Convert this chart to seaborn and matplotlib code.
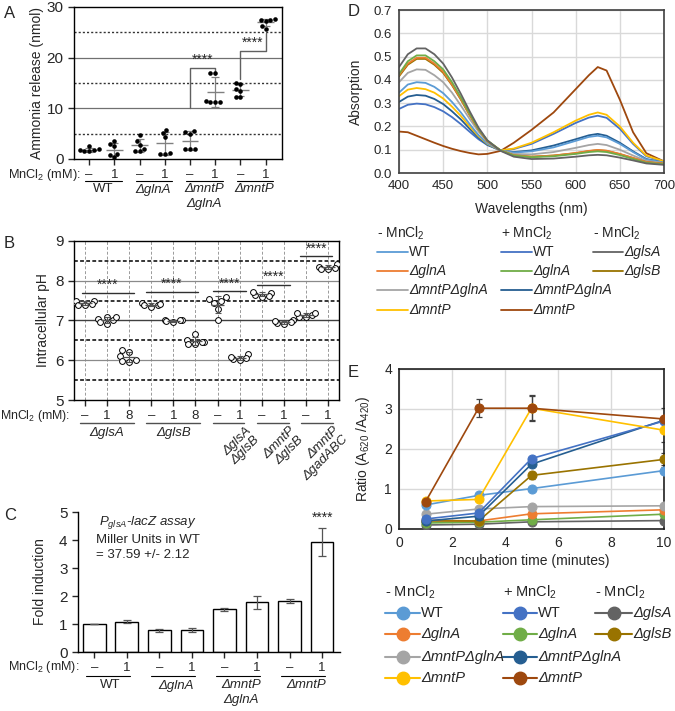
import numpy as np
import pandas as pd
import matplotlib
matplotlib.use("Agg")
import matplotlib.pyplot as plt
import matplotlib.transforms as mtransforms
from matplotlib.lines import Line2D
import seaborn as sns

sns.set_style("ticks")
plt.rcParams['font.family'] = ['Liberation Sans', 'DejaVu Sans']
plt.rcParams['mathtext.fontset'] = 'custom'
plt.rcParams['mathtext.rm'] = 'Liberation Sans'
plt.rcParams['mathtext.it'] = 'Liberation Sans:italic'
plt.rcParams['mathtext.bf'] = 'Liberation Sans:bold'

# ---------------- data ----------------
# Panel A: ammonia release (nmol)
a_groups = ["WT-", "WT+", "glnA-", "glnA+", "mntPglnA-", "mntPglnA+", "mntP-", "mntP+"]
a_vals = [
    [1.5, 1.6, 1.7, 1.8, 1.9, 2.5],
    [0.3, 0.8, 1.0, 2.5, 3.0, 3.6],
    [1.5, 1.6, 2.0, 2.8, 3.6, 4.7],
    [1.0, 1.0, 1.1, 4.4, 5.2, 5.8],
    [1.9, 2.0, 2.0, 5.0, 5.3, 5.5],
    [11.2, 11.2, 11.3, 11.4, 17.0, 17.0],
    [12.3, 12.3, 13.4, 13.9, 14.8, 15.0],
    [25.7, 26.3, 27.2, 27.4, 27.5, 27.6],
]
a_ticklabels = ["–", "1", "–", "1", "–", "1", "–", "1"]
a_strains = ["WT", "ΔglnA", "ΔmntP\nΔglnA", "ΔmntP"]

# Panel B: intracellular pH
b_groups = ["glsA-", "glsA1", "glsA8", "glsB-", "glsB1", "glsB8",
            "glsAglsB-", "glsAglsB1", "mntPglsB-", "mntPglsB1", "mntPgad-", "mntPgad1"]
b_vals = [
    [7.40, 7.45, 7.50, 7.40, 7.48, 7.42],
    [6.92, 7.00, 7.05, 7.10, 7.10, 6.95],
    [6.25, 6.22, 6.10, 6.00, 5.97, 5.95],
    [7.35, 7.40, 7.45, 7.42, 7.38],
    [6.97, 7.00, 7.02, 7.00, 6.98],
    [6.66, 6.50, 6.45, 6.42, 6.40, 6.45],
    [7.58, 7.50, 7.45, 7.30, 7.00, 7.55],
    [6.15, 6.05, 6.00, 6.02, 6.08],
    [7.60, 7.65, 7.70, 7.72, 7.62],
    [6.90, 6.93, 6.98, 7.00, 6.95],
    [7.10, 7.15, 7.20, 7.18, 7.08],
    [8.30, 8.35, 8.42, 8.30, 8.33],
]
b_ticklabels = ["–", "1", "8", "–", "1", "8", "–", "1", "–", "1", "–", "1"]
b_strains = ["ΔglsA", "ΔglsB", "ΔglsA\nΔglsB", "ΔmntP\nΔglsB", "ΔmntP\nΔgadABC"]

# Panel C: fold induction
c_groups = ["WT-", "WT+", "glnA-", "glnA+", "mntPglnA-", "mntPglnA+", "mntP-", "mntP+"]
c_vals = [1.00, 1.08, 0.77, 0.79, 1.53, 1.78, 1.82, 3.92]
c_err = [0.00, 0.05, 0.05, 0.06, 0.05, 0.23, 0.06, 0.50]

# Panel D: absorption spectra
d_wl = [400, 410, 420, 430, 440, 450, 460, 470, 480, 490, 500, 515,
        530, 550, 575, 600, 615, 625, 635, 650, 665, 680, 700]
d_glsA = [.455, .51, .535, .535, .51, .47, .41, .34, .265, .195, .14, .095, .07, .06, .062, .07, .076, .078, .076, .066, .054, .041, .035]
d_glnA_p = [.425, .48, .505, .505, .48, .445, .39, .325, .255, .19, .14, .097, .075, .068, .072, .082, .09, .093, .09, .077, .06, .044, .038]
d_glnA_m = [.42, .47, .495, .495, .47, .435, .38, .318, .25, .188, .138, .097, .076, .07, .075, .086, .095, .099, .096, .082, .065, .047, .04]
d_glsB = [.415, .465, .49, .49, .465, .43, .377, .315, .248, .187, .137, .097, .076, .07, .075, .085, .094, .098, .095, .081, .064, .047, .04]
d_mntPglnA_m = [.39, .43, .445, .443, .42, .39, .345, .29, .232, .178, .133, .097, .082, .08, .09, .108, .12, .125, .12, .1, .075, .052, .043]
d_WT_m = [.345, .38, .39, .387, .37, .343, .305, .26, .21, .163, .127, .097, .088, .093, .11, .138, .155, .16, .153, .125, .09, .058, .045]
d_mntP_m = [.33, .358, .365, .36, .345, .32, .285, .245, .2, .158, .125, .097, .105, .13, .175, .225, .25, .26, .25, .2, .13, .075, .05]
d_mntPglnA_p = [.305, .328, .335, .332, .318, .296, .265, .23, .19, .152, .122, .097, .09, .097, .118, .145, .162, .168, .16, .13, .093, .06, .046]
d_WT_p = [.275, .293, .298, .295, .283, .265, .24, .21, .177, .145, .12, .097, .103, .125, .168, .215, .238, .246, .237, .19, .125, .072, .05]
d_mntP_p = [.178, .175, .16, .145, .13, .116, .104, .094, .086, .08, .082, .095, .13, .185, .26, .36, .42, .455, .44, .315, .175, .085, .05]

# Panel E: ratio over time
e_time = [1, 3, 5, 10]
e_WT_m = [0.60, 0.84, 1.01, 1.46]
e_glnA_m = [0.22, 0.20, 0.38, 0.48]
e_mntPglnA_m = [0.37, 0.50, 0.56, 0.58]
e_mntP_m = [0.70, 0.74, 3.02, 2.47]
e_WT_p = [0.25, 0.40, 1.76, 2.70]
e_glnA_p = [0.15, 0.17, 0.23, 0.37]
e_mntPglnA_p = [0.20, 0.32, 1.62, 2.72]
e_mntP_p = [0.68, 3.02, 3.02, 2.75]
e_glsA = [0.10, 0.12, 0.18, 0.21]
e_glsB = [0.20, 0.20, 1.34, 1.74]
e_err_mntP_m = [0.0, 0.0, 0.33, 0.30]
e_err_mntP_p = [0.0, 0.23, 0.30, 0.27]
e_err_glsB = [0.0, 0.0, 0.08, 0.15]
e_err_WT_m = [0.0, 0.0, 0.0, 0.08]

series_keys = ["WT-", "glnA-", "mntPglnA-", "mntP-", "WT+", "glnA+", "mntPglnA+", "mntP+", "glsA", "glsB"]
series_colors = ["#5B9BD5", "#ED7D31", "#A5A5A5", "#FFC000", "#4472C4", "#70AD47",
                 "#255E91", "#9E480E", "#636363", "#997300"]
series_labels = ["WT", "ΔglnA", "ΔmntPΔglnA", "ΔmntP", "WT", "ΔglnA", "ΔmntPΔglnA", "ΔmntP", "ΔglsA", "ΔglsB"]

# ---------------- figure ----------------
W, H = 675, 711
fig = plt.figure(figsize=(W / 100, H / 100), dpi=100)


def fy(ypx):
    return 1 - ypx / H


def add_ax(l, t, r, b):
    return fig.add_axes([l / W, 1 - b / H, (r - l) / W, (b - t) / H])


FS = 9.5

# ================= Panel A =================
axA = add_ax(74, 7, 282, 159)
dfA = pd.DataFrame({"g": np.repeat(a_groups, [len(v) for v in a_vals]),
                    "v": np.concatenate(a_vals)})
for yv in [10, 20]:
    axA.axhline(yv, color="#707070", lw=0.9, zorder=0)
for yv in [5, 15, 25]:
    axA.axhline(yv, color="#333333", lw=1.0, ls=(0, (1.5, 1.5)), zorder=0)
sns.swarmplot(data=dfA, x="g", y="v", order=a_groups, color="black", size=3.3, ax=axA, zorder=3)
for i, v in enumerate(a_vals):
    m, s = np.mean(v), np.std(v, ddof=1)
    axA.errorbar(i, m, yerr=s, color="#808080", capsize=3, lw=0.9, capthick=0.9, zorder=2)
    axA.hlines(m, i - 0.33, i + 0.33, color="#808080", lw=1.0, zorder=2)
axA.plot([4, 4, 5, 5], [10, 18, 18, 16.6], color="#606060", lw=1.0)
axA.text(4.5, 18.2, "****", ha="center", va="bottom", fontsize=10)
axA.plot([6, 6, 7, 7], [15.8, 21.4, 21.4, 24.9], color="#606060", lw=1.0)
axA.text(6.5, 21.6, "****", ha="center", va="bottom", fontsize=10)
axA.set_xlim(-0.6, 7.65)
axA.set_ylim(0, 30)
axA.set_yticks([0, 10, 20, 30])
axA.set_xticks(range(8), a_ticklabels)
axA.set_xlabel("")
axA.set_ylabel("Ammonia release (nmol)", fontsize=FS + 0.5)
axA.yaxis.set_label_coords(-0.145, 0.5)
axA.tick_params(axis="both", labelsize=FS + 1.5, length=4, width=1, direction="out")
axA.tick_params(axis="x", labelsize=FS, pad=3)
for sp in axA.spines.values():
    sp.set_visible(True)
    sp.set_color("black")
    sp.set_linewidth(1.0)
trA = mtransforms.blended_transform_factory(axA.transData, fig.transFigure)
fig.text(8 / W, fy(175), "MnCl$_2$ (mM):", ha="left", va="center", fontsize=FS - 0.3)
for k, name in enumerate(a_strains):
    i = 2 * k
    axA.plot([i - 0.15, i + 1.3], [fy(181)] * 2, transform=trA, color="black", lw=0.8, clip_on=False)
    axA.text(i + 0.55, fy(183.5), name, transform=trA, ha="center", va="top", fontsize=FS,
             style="italic" if name != "WT" else "normal", linespacing=1.25)
fig.text(4 / W, fy(14), "A", fontsize=12, ha="left", va="center")

# ================= Panel B =================
axB = add_ax(74, 241, 339, 400)
dfB = pd.DataFrame({"g": np.repeat(b_groups, [len(v) for v in b_vals]),
                    "v": np.concatenate(b_vals)})
for i in range(12):
    axB.axvline(i, color="#9a9a9a", lw=0.7, ls=(0, (3, 2)), zorder=0)
for yv in [6, 8]:
    axB.axhline(yv, color="#8a8a8a", lw=0.9, zorder=0)
axB.axhline(7, color="#404040", lw=1.0, zorder=0)
for yv in [5.5, 6.5, 7.5, 8.5]:
    axB.axhline(yv, color="black", lw=1.1, ls=(0, (2.5, 1.5)), zorder=0)
sns.swarmplot(data=dfB, x="g", y="v", order=b_groups, color="white", edgecolor="black",
              linewidth=0.7, size=4.2, ax=axB, zorder=3)
for i, v in enumerate(b_vals):
    m, s = np.mean(v), np.std(v, ddof=1)
    axB.errorbar(i, m, yerr=s, color="#555555", capsize=2.5, lw=0.8, capthick=0.8, zorder=4)
    axB.hlines(m, i - 0.3, i + 0.3, color="#555555", lw=0.9, zorder=4)
b_sig = [(-0.15, 2.2, 7.70), (2.75, 5.1, 7.72), (5.8, 7.3, 7.74), (7.8, 9.3, 7.90), (9.75, 11.2, 8.62)]
for x0, x1, yv in b_sig:
    axB.plot([x0, x1], [yv, yv], color="#303030", lw=1.0)
    axB.text((x0 + x1) / 2, yv + 0.02, "****", ha="center", va="bottom", fontsize=10)
axB.set_xlim(-0.5, 11.5)
axB.set_ylim(5, 9)
axB.set_yticks([5, 6, 7, 8, 9])
axB.set_xticks(range(12), b_ticklabels)
axB.set_xlabel("")
axB.set_ylabel("Intracellular pH", fontsize=FS + 0.5)
axB.yaxis.set_label_coords(-0.09, 0.5)
axB.tick_params(axis="both", labelsize=FS + 1.5, length=4, width=1, direction="out")
axB.tick_params(axis="x", labelsize=FS, pad=3)
for sp in axB.spines.values():
    sp.set_visible(True)
    sp.set_color("black")
    sp.set_linewidth(1.0)
trB = mtransforms.blended_transform_factory(axB.transData, fig.transFigure)
fig.text(0 / W, fy(416), "MnCl$_2$ (mM):", ha="left", va="center", fontsize=FS - 0.7)
b_spans = [(0, 2), (3, 5), (6, 7), (8, 9), (10, 11)]
for k, (s0, s1) in enumerate(b_spans):
    axB.plot([s0 - 0.22, s1 + 0.22], [fy(423)] * 2, transform=trB, color="#505050", lw=1.0, clip_on=False)
    if k < 2:
        axB.text((s0 + s1) / 2, fy(433), b_strains[k], transform=trB, ha="center", va="center",
                 fontsize=FS, style="italic")
    else:
        axB.text((s0 + s1) / 2 + 0.75, fy(425), b_strains[k], transform=trB, ha="right", va="top",
                 fontsize=FS, style="italic", rotation=45, rotation_mode="anchor", linespacing=1.0)
fig.text(4 / W, fy(243), "B", fontsize=12, ha="left", va="center")

# ================= Panel C =================
axC = add_ax(78, 512, 340, 652)
dfC = pd.DataFrame({"g": c_groups, "v": c_vals})
sns.barplot(data=dfC, x="g", y="v", order=c_groups, color="white", edgecolor="black",
            linewidth=1.0, width=0.7, errorbar=None, ax=axC)
axC.errorbar(range(8), c_vals, yerr=c_err, fmt="none", ecolor="#555555", capsize=3, lw=0.9,
             capthick=0.9)
axC.text(7, c_vals[7] + c_err[7] + 0.12, "****", ha="center", va="bottom", fontsize=10)
axC.text(0.15, 4.62, "$P_{glsA}$-lacZ assay", ha="left", va="center", fontsize=FS, style="italic")
axC.text(0.05, 4.0, "Miller Units in WT", ha="left", va="center", fontsize=FS)
axC.text(0.05, 3.45, "= 37.59 +/- 2.12", ha="left", va="center", fontsize=FS)
axC.set_xlim(-0.5, 7.55)
axC.set_ylim(0, 5)
axC.set_yticks([0, 1, 2, 3, 4, 5])
axC.set_xticks(range(8), a_ticklabels)
axC.set_xlabel("")
axC.set_ylabel("Fold induction", fontsize=FS + 0.5)
axC.yaxis.set_label_coords(-0.118, 0.5)
axC.tick_params(axis="both", labelsize=FS + 1.5, length=4, width=1, direction="out")
axC.tick_params(axis="x", labelsize=FS, pad=3)
sns.despine(ax=axC)
for sp in ["left", "bottom"]:
    axC.spines[sp].set_color("black")
    axC.spines[sp].set_linewidth(1.0)
trC = mtransforms.blended_transform_factory(axC.transData, fig.transFigure)
fig.text(8 / W, fy(667), "MnCl$_2$ (mM):", ha="left", va="center", fontsize=FS - 0.5)
for k, name in enumerate(a_strains):
    i = 2 * k
    axC.plot([i - 0.25, i + 1.1], [fy(676)] * 2, transform=trC, color="black", lw=0.8, clip_on=False)
    axC.text(i + 0.5, fy(679.5), name, transform=trC, ha="center", va="top", fontsize=FS,
             style="italic" if name != "WT" else "normal", linespacing=1.25)
fig.text(4 / W, fy(516), "C", fontsize=12, ha="left", va="center")

# ================= Panel D =================
axD = add_ax(399, 10, 664, 173)
d_curves = [d_WT_m, d_glnA_m, d_mntPglnA_m, d_mntP_m, d_WT_p, d_glnA_p, d_mntPglnA_p, d_mntP_p, d_glsA, d_glsB]
dfD = pd.concat([pd.DataFrame({"wl": d_wl, "a": c, "s": k}) for c, k in zip(d_curves, series_keys)],
                ignore_index=True)
draw_order = ["mntP+", "WT+", "mntPglnA+", "mntP-", "WT-", "mntPglnA-", "glsB", "glnA-", "glnA+", "glsA"]
pal = dict(zip(series_keys, series_colors))
for key in draw_order:
    sns.lineplot(data=dfD[dfD.s == key], x="wl", y="a", color=pal[key], lw=1.3, ax=axD,
                 estimator=None, legend=False)
axD.set_xlim(400, 700)
axD.set_ylim(0, 0.7)
axD.set_xticks(range(400, 701, 50))
axD.set_yticks(np.arange(0, 0.71, 0.1))
axD.set_yticklabels([f"{v:.1f}" for v in np.arange(0, 0.71, 0.1)])
axD.grid(True, color="#D9D9D9", lw=1.0)
axD.set_axisbelow(True)
axD.tick_params(length=0, labelsize=FS, pad=5)
for sp in axD.spines.values():
    sp.set_visible(True)
    sp.set_color("#404040")
    sp.set_linewidth(1.2)
axD.set_xlabel("Wavelengths (nm)", fontsize=FS + 0.5)
axD.xaxis.set_label_coords(0.5, -0.175)
axD.set_ylabel("Absorption", fontsize=FS + 0.5)
axD.yaxis.set_label_coords(-0.135, 0.5)
fig.text(348 / W, fy(12), "D", fontsize=12, ha="left", va="center")

# legend D (manual layout)
headers = ["- MnCl$_2$", "+ MnCl$_2$", "- MnCl$_2$"]
d_line_x = [(377, 408), (501, 532), (593, 623)]
d_head_y = 233
d_rows = [252, 271, 290, 310]
slots = [(0, 0), (0, 1), (0, 2), (0, 3), (1, 0), (1, 1), (1, 2), (1, 3), (2, 0), (2, 1)]
for c, (x0, x1) in enumerate(d_line_x):
    fig.text(x0 / W, fy(d_head_y), headers[c], ha="left", va="center", fontsize=FS + 0.5)
for (c, r), lab, col in zip(slots, series_labels, series_colors):
    x0, x1 = d_line_x[c]
    fig.add_artist(Line2D([x0 / W, x1 / W], [fy(d_rows[r])] * 2, transform=fig.transFigure,
                          color=col, lw=1.3))
    fig.text((x1 + 1) / W, fy(d_rows[r]), lab, ha="left", va="center", fontsize=FS + 0.5,
             style="normal" if lab == "WT" else "italic")

# ================= Panel E =================
axE = add_ax(399, 369, 664, 529)
e_curves = [e_WT_m, e_glnA_m, e_mntPglnA_m, e_mntP_m, e_WT_p, e_glnA_p, e_mntPglnA_p, e_mntP_p, e_glsA, e_glsB]
dfE = pd.concat([pd.DataFrame({"t": e_time, "r": c, "s": k}) for c, k in zip(e_curves, series_keys)],
                ignore_index=True)
e_draw = ["glsA", "glnA+", "glnA-", "mntPglnA-", "WT-", "glsB", "mntPglnA+", "WT+", "mntP-", "mntP+"]
errs = {"mntP-": e_err_mntP_m, "mntP+": e_err_mntP_p, "glsB": e_err_glsB, "WT-": e_err_WT_m}
for key in e_draw:
    sub = dfE[dfE.s == key]
    if key in errs:
        axE.errorbar(sub.t, sub.r, yerr=errs[key], fmt="none", ecolor="#404040", capsize=2.5,
                     lw=0.9, capthick=0.9, zorder=2)
    sns.lineplot(data=sub, x="t", y="r", color=pal[key], lw=1.2, marker="o", markersize=6.5,
                 markeredgecolor=pal[key], ax=axE, estimator=None, legend=False, zorder=3)
axE.set_xlim(0, 10)
axE.set_ylim(0, 4)
axE.set_xticks(range(0, 11, 2))
axE.set_yticks(range(0, 5))
axE.grid(True, color="#D9D9D9", lw=1.0)
axE.set_axisbelow(True)
axE.tick_params(length=0, labelsize=FS + 0.5, pad=5)
for sp in axE.spines.values():
    sp.set_visible(True)
    sp.set_color("#202020")
    sp.set_linewidth(1.2)
axE.set_xlabel("Incubation time (minutes)", fontsize=FS + 0.5)
axE.xaxis.set_label_coords(0.5, -0.155)
axE.set_ylabel("Ratio (A$_{620}$ /A$_{420}$)", fontsize=FS + 0.5)
axE.yaxis.set_label_coords(-0.10, 0.5)
fig.text(348 / W, fy(372), "E", fontsize=12, ha="left", va="center")

# legend E
e_line_x = [(385, 420), (503, 537), (595, 632)]
e_head_y = 592
e_rows = [613, 634, 657, 678]
for c, (x0, x1) in enumerate(e_line_x):
    fig.text(x0 / W, fy(e_head_y), headers[c], ha="left", va="center", fontsize=FS + 1)
for (c, r), lab, col in zip(slots, series_labels, series_colors):
    x0, x1 = e_line_x[c]
    fig.add_artist(Line2D([x0 / W, x1 / W], [fy(e_rows[r])] * 2, transform=fig.transFigure,
                          color=col, lw=1.5))
    fig.add_artist(Line2D([(x0 + x1) / 2 / W], [fy(e_rows[r])], transform=fig.transFigure,
                          color=col, marker="o", markersize=9, lw=0))
    fig.text((x1 + 1) / W, fy(e_rows[r]), lab, ha="left", va="center", fontsize=FS + 1,
             style="normal" if lab == "WT" else "italic")

fig.savefig("out.png", dpi=100)
